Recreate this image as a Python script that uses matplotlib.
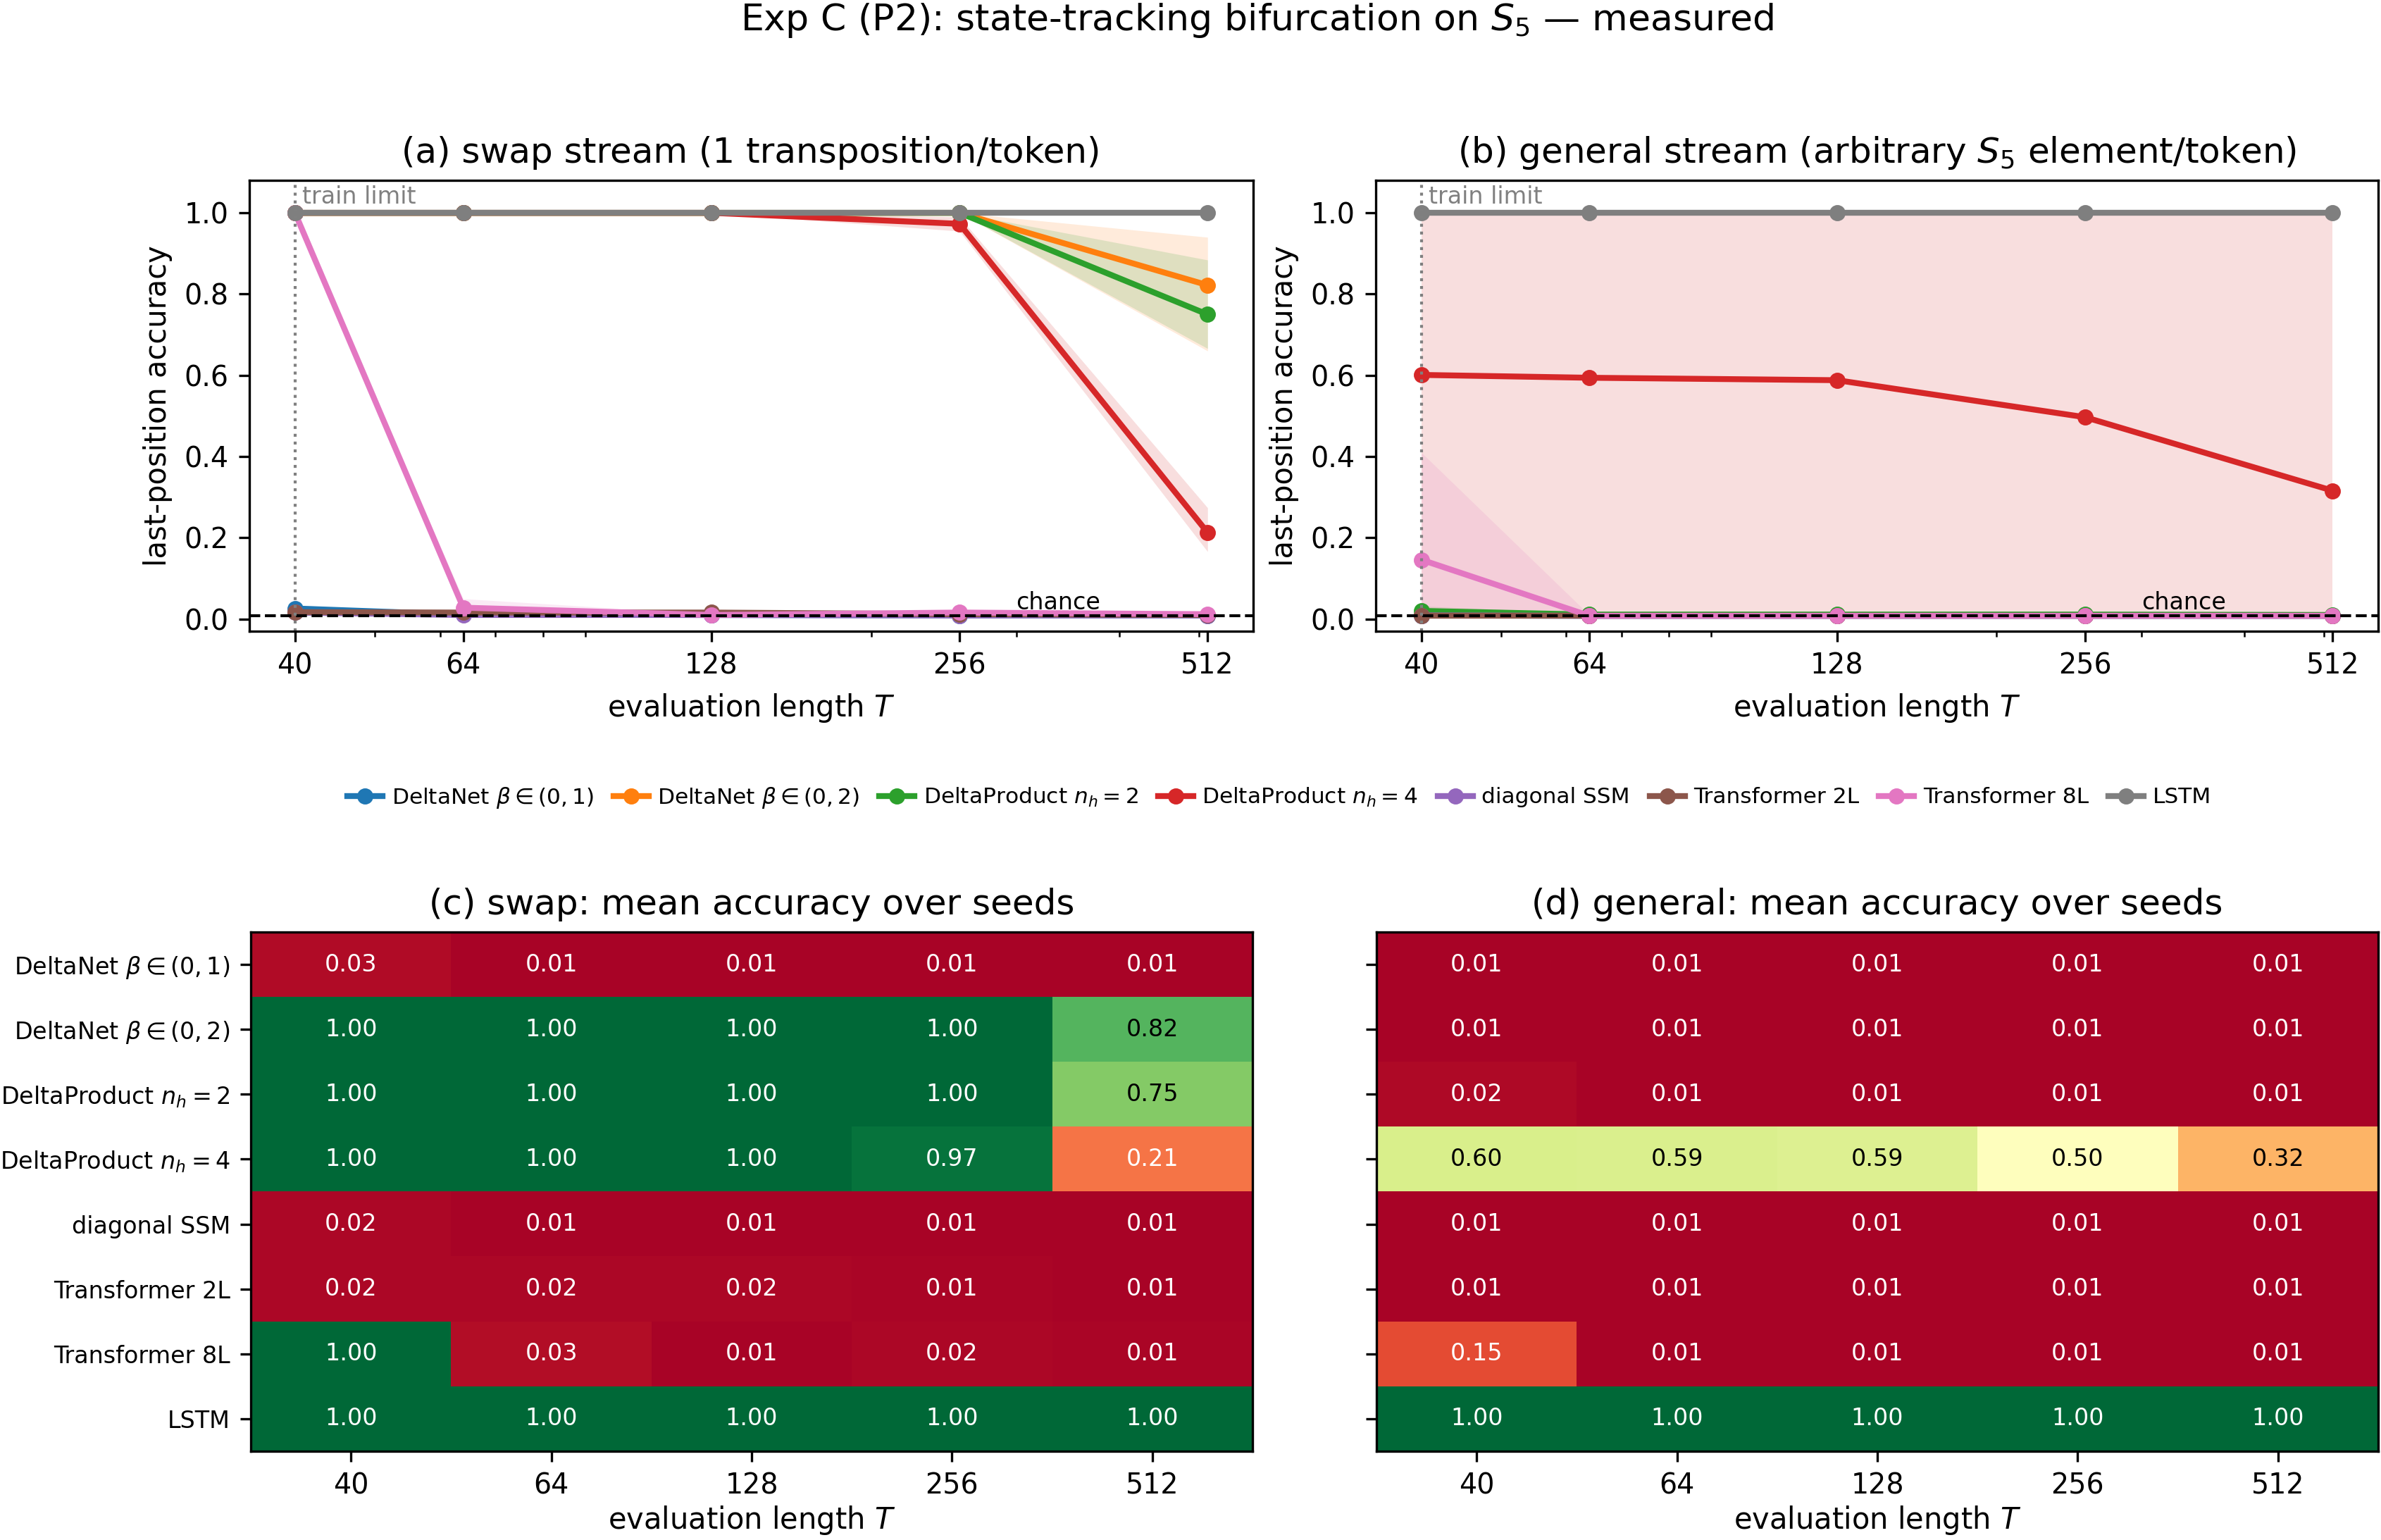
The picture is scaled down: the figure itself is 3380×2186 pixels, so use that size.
import numpy as np
import matplotlib
matplotlib.use("Agg")
import matplotlib.pyplot as plt

# ---------------- data ----------------
T_vals = [40, 64, 128, 256, 512]
T_labels = ["40", "64", "128", "256", "512"]
models = [r"DeltaNet $\beta\in(0,1)$", r"DeltaNet $\beta\in(0,2)$",
          r"DeltaProduct $n_h=2$", r"DeltaProduct $n_h=4$",
          "diagonal SSM", "Transformer 2L", "Transformer 8L", "LSTM"]
colors = ["C0", "C1", "C2", "C3", "C4", "C5", "C6", "C7"]

# swap stream: mean accuracy
swap_dn01 = [0.026, 0.011, 0.010, 0.009, 0.009]
swap_dn02 = [1.00, 1.00, 1.00, 1.00, 0.822]
swap_dp2 = [1.00, 1.00, 1.00, 1.00, 0.750]
swap_dp4 = [1.00, 1.00, 1.00, 0.973, 0.213]
swap_ssm = [0.016, 0.010, 0.010, 0.009, 0.009]
swap_t2l = [0.017, 0.016, 0.016, 0.012, 0.010]
swap_t8l = [1.00, 0.028, 0.010, 0.016, 0.012]
swap_lstm = [1.00, 1.00, 1.00, 1.00, 1.00]
# swap stream: seed min / max
swap_dn01_lo = [0.018, 0.008, 0.008, 0.008, 0.008]
swap_dn01_hi = [0.034, 0.014, 0.012, 0.011, 0.011]
swap_dn02_lo = [1.00, 1.00, 1.00, 1.00, 0.660]
swap_dn02_hi = [1.00, 1.00, 1.00, 1.00, 0.940]
swap_dp2_lo = [1.00, 1.00, 1.00, 1.00, 0.666]
swap_dp2_hi = [1.00, 1.00, 1.00, 1.00, 0.884]
swap_dp4_lo = [1.00, 1.00, 1.00, 0.955, 0.166]
swap_dp4_hi = [1.00, 1.00, 1.00, 0.990, 0.274]
swap_ssm_lo = [0.010, 0.008, 0.008, 0.007, 0.007]
swap_ssm_hi = [0.022, 0.012, 0.012, 0.011, 0.011]
swap_t2l_lo = [0.012, 0.012, 0.012, 0.009, 0.008]
swap_t2l_hi = [0.022, 0.020, 0.019, 0.015, 0.012]
swap_t8l_lo = [1.00, 0.010, 0.008, 0.008, 0.008]
swap_t8l_hi = [1.00, 0.050, 0.012, 0.022, 0.016]
swap_lstm_lo = [1.00, 1.00, 1.00, 1.00, 1.00]
swap_lstm_hi = [1.00, 1.00, 1.00, 1.00, 1.00]

# general stream: mean accuracy
gen_dn01 = [0.009, 0.008, 0.008, 0.008, 0.008]
gen_dn02 = [0.010, 0.009, 0.009, 0.009, 0.009]
gen_dp2 = [0.020, 0.011, 0.011, 0.011, 0.010]
gen_dp4 = [0.601, 0.594, 0.588, 0.497, 0.316]
gen_ssm = [0.009, 0.008, 0.008, 0.008, 0.008]
gen_t2l = [0.008, 0.008, 0.008, 0.008, 0.008]
gen_t8l = [0.146, 0.008, 0.008, 0.008, 0.008]
gen_lstm = [1.00, 1.00, 1.00, 1.00, 1.00]
# general stream: seed min / max
gen_dn01_lo = [0.007, 0.007, 0.007, 0.007, 0.007]
gen_dn01_hi = [0.011, 0.010, 0.010, 0.010, 0.010]
gen_dn02_lo = [0.008, 0.007, 0.007, 0.007, 0.007]
gen_dn02_hi = [0.012, 0.011, 0.011, 0.011, 0.011]
gen_dp2_lo = [0.010, 0.008, 0.008, 0.008, 0.008]
gen_dp2_hi = [0.032, 0.014, 0.014, 0.014, 0.013]
gen_dp4_lo = [0.008, 0.008, 0.008, 0.008, 0.008]
gen_dp4_hi = [1.00, 1.00, 1.00, 1.00, 1.00]
gen_ssm_lo = [0.007, 0.007, 0.007, 0.007, 0.007]
gen_ssm_hi = [0.011, 0.010, 0.010, 0.010, 0.010]
gen_t2l_lo = [0.006, 0.006, 0.006, 0.006, 0.006]
gen_t2l_hi = [0.010, 0.010, 0.010, 0.010, 0.010]
gen_t8l_lo = [0.004, 0.006, 0.006, 0.006, 0.006]
gen_t8l_hi = [0.410, 0.010, 0.010, 0.010, 0.010]
gen_lstm_lo = [1.00, 1.00, 1.00, 1.00, 1.00]
gen_lstm_hi = [1.00, 1.00, 1.00, 1.00, 1.00]

chance = 1.0 / 120
train_limit = 40

swap_mean = [swap_dn01, swap_dn02, swap_dp2, swap_dp4, swap_ssm, swap_t2l, swap_t8l, swap_lstm]
swap_lo = [swap_dn01_lo, swap_dn02_lo, swap_dp2_lo, swap_dp4_lo, swap_ssm_lo, swap_t2l_lo, swap_t8l_lo, swap_lstm_lo]
swap_hi = [swap_dn01_hi, swap_dn02_hi, swap_dp2_hi, swap_dp4_hi, swap_ssm_hi, swap_t2l_hi, swap_t8l_hi, swap_lstm_hi]
gen_mean = [gen_dn01, gen_dn02, gen_dp2, gen_dp4, gen_ssm, gen_t2l, gen_t8l, gen_lstm]
gen_lo = [gen_dn01_lo, gen_dn02_lo, gen_dp2_lo, gen_dp4_lo, gen_ssm_lo, gen_t2l_lo, gen_t8l_lo, gen_lstm_lo]
gen_hi = [gen_dn01_hi, gen_dn02_hi, gen_dp2_hi, gen_dp4_hi, gen_ssm_hi, gen_t2l_hi, gen_t8l_hi, gen_lstm_hi]

# ---------------- figure ----------------
W, H = 3380, 2186
fig = plt.figure(figsize=(W / 300, H / 300), dpi=300)

def px_axes(x0, y0, x1, y1):
    return fig.add_axes([x0 / W, 1 - y1 / H, (x1 - x0) / W, (y1 - y0) / H])

ax_a = px_axes(354, 256, 1779, 896)
ax_b = px_axes(1953, 256, 3376, 896)
ax_c = px_axes(356, 1323, 1778, 2060)
ax_d = px_axes(1954, 1323, 3376, 2060)

TITLE_FS = 12
TICK_FS = 9.5
LABEL_FS = 10

def line_panel(ax, means, los, his, title):
    handles = []
    for m, lo, hi, c, name in zip(means, los, his, colors, models):
        ax.fill_between(T_vals, lo, hi, color=c, alpha=0.15, linewidth=0)
        h, = ax.plot(T_vals, m, "-o", color=c, lw=2, ms=4.5, label=name)
        handles.append(h)
    ax.set_xscale("log")
    ax.set_xticks(T_vals)
    ax.set_xticklabels(T_labels)
    ax.set_ylim(-0.03, 1.08)
    ax.axhline(chance, color="k", ls="--", lw=1)
    ax.axvline(train_limit, color="gray", ls=":", lw=1)
    ax.text(train_limit * 1.02, 1.01, "train limit", color="gray", fontsize=8,
            ha="left", va="bottom")
    ax.text(300, chance + 0.004, "chance", color="k", fontsize=8, ha="left", va="bottom")
    ax.set_xlabel("evaluation length $T$", fontsize=LABEL_FS)
    ax.set_ylabel("last-position accuracy", fontsize=LABEL_FS)
    ax.set_title(title, fontsize=TITLE_FS)
    ax.tick_params(labelsize=TICK_FS)
    return handles

handles = line_panel(ax_a, swap_mean, swap_lo, swap_hi, "(a) swap stream (1 transposition/token)")
line_panel(ax_b, gen_mean, gen_lo, gen_hi, "(b) general stream (arbitrary $S_5$ element/token)")

def heat_panel(ax, means, title, show_y):
    M = np.array(means)
    ax.imshow(M, cmap="RdYlGn", vmin=0, vmax=1, aspect="auto")
    for i in range(M.shape[0]):
        for j in range(M.shape[1]):
            v = M[i, j]
            col = "white" if (v < 0.25 or v > 0.9) else "black"
            ax.text(j, i, f"{v:.2f}", ha="center", va="center", color=col, fontsize=8)
    ax.set_xticks(range(len(T_vals)))
    ax.set_xticklabels(T_labels, fontsize=TICK_FS)
    ax.set_yticks(range(len(models)))
    if show_y:
        ax.set_yticklabels(models, fontsize=8)
    else:
        ax.set_yticklabels([])
    ax.set_xlabel("evaluation length $T$", fontsize=LABEL_FS, labelpad=1.5)
    ax.set_title(title, fontsize=TITLE_FS)

heat_panel(ax_c, swap_mean, "(c) swap: mean accuracy over seeds", True)
heat_panel(ax_d, gen_mean, "(d) general: mean accuracy over seeds", False)

fig.legend(handles, models, loc="center", bbox_to_anchor=(1816 / W, 1 - 1132 / H),
           ncol=8, frameon=False, fontsize=7.5, handlelength=1.6, columnspacing=0.9,
           handletextpad=0.4)
fig.suptitle("Exp C (P2): state-tracking bifurcation on $S_5$ — measured",
             fontsize=12.5, x=1785 / W, y=1 - 2 / H, va="top")

fig.savefig("out.png", dpi=300)
